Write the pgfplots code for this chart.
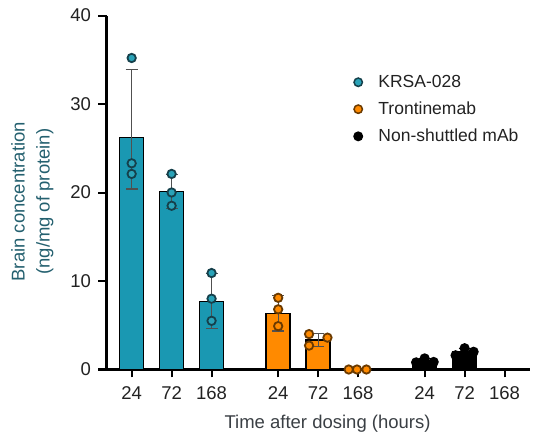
\documentclass[border=0pt]{standalone}
\usepackage{fontspec}
\setmainfont{Liberation Sans}
\usepackage{pgfplots}
\pgfplotsset{compat=1.18}
\definecolor{tealbar}{HTML}{1A98B2}
\definecolor{tealmk}{HTML}{2AA3B8}
\definecolor{tealedge}{HTML}{15404B}
\definecolor{orangebar}{HTML}{FF8A00}
\definecolor{orangeedge}{HTML}{6B3A00}
\definecolor{errc}{HTML}{505050}
\definecolor{tickc}{HTML}{222222}
\definecolor{ylabc}{HTML}{24606F}
\definecolor{xlabc}{HTML}{3A3F44}
\begin{document}
\begin{tikzpicture}
\useasboundingbox (0,0) rectangle (535bp,444bp);
\begin{axis}[
  at={(106.5bp,74.5bp)}, anchor=south west,
  scale only axis, width=423.5bp, height=354bp,
  xmin=-0.63, xmax=9.97, ymin=0, ymax=40,
  axis x line*=bottom, axis y line*=left,
  axis line style={line width=2.2bp, -},
  ytick={0,10,20,30,40},
  xtick={0,1,2,3.667,4.667,5.667,7.333,8.333,9.333},
  xticklabels={24,72,168,24,72,168,24,72,168},
  tick align=outside, major tick length=8bp,
  tick style={line width=2bp, black},
  ticklabel style={font=\fontsize{18.5bp}{20bp}\selectfont, text=tickc},
  xticklabel style={yshift=-6bp},
  yticklabel style={xshift=-4bp},
  /pgf/number format/assume math mode=true,
  clip=false,
  xlabel={Time after dosing (hours)},
  xlabel style={font=\fontsize{18.5bp}{22bp}\selectfont, text=xlabc, at={(axis description cs:0.522,-0.168)}, anchor=base},
  ylabel={Brain concentration\\(ng/mg of protein)},
  ylabel style={font=\fontsize{18.5bp}{25bp}\selectfont, text=ylabc, align=center, at={(axis description cs:-0.175,0.474)}, anchor=center},
  legend style={at={(axis description cs:0.584,0.837)}, anchor=north west, draw=none, fill=none, inner sep=0pt, row sep=9bp, column sep=14bp,
    font=\fontsize{17.5bp}{20bp}\selectfont, text=tickc},
  legend cell align=left,
]
% bars
\addplot[ybar, bar width=0.6, bar shift=0pt, fill=tealbar, draw=black, line width=1.6bp, forget plot,
  error bars/.cd, y dir=both, y explicit,
  error bar style={line width=1.1bp, color=errc},
  error mark options={rotate=90, mark size=6bp, line width=1.1bp, color=errc}]
  coordinates {(0,26.2) += (0,7.7) -= (0,5.8) (1,20.1) +- (0,1.9) (2,7.7) +- (0,3.1)};
\addplot[ybar, bar width=0.6, bar shift=0pt, fill=orangebar, draw=black, line width=1.6bp, forget plot,
  error bars/.cd, y dir=both, y explicit,
  error bar style={line width=1.1bp, color=errc},
  error mark options={rotate=90, mark size=6bp, line width=1.1bp, color=errc}]
  coordinates {(3.667,6.35) +- (0,2.0) (4.667,3.33) +- (0,0.7)};
\addplot[ybar, bar width=0.6, bar shift=0pt, fill=black, draw=black, line width=1.6bp, forget plot,
  error bars/.cd, y dir=both, y explicit,
  error bar style={line width=1.1bp, color=black},
  error mark options={rotate=90, mark size=6bp, line width=1.1bp, color=black}]
  coordinates {(7.333,0.97) +- (0,0.25) (8.333,2.0) +- (0,0.4)};
% points
\addplot[only marks, mark=*, mark size=4.2bp, mark options={fill=tealmk, draw=tealedge, line width=1.8bp}, forget plot]
  coordinates {(0,35.2)(0,23.3)(0,22.1)(1,22.1)(1,20.0)(1,18.5)(2,10.9)(2,8.0)(2,5.5)};
\addplot[only marks, mark=*, mark size=4.2bp, mark options={fill=orangebar, draw=orangeedge, line width=1.8bp}, forget plot]
  coordinates {(3.667,8.1)(3.667,6.8)(3.667,4.9)(4.44,4.0)(4.44,2.7)(4.9,3.6)(5.433,0)(5.64,0)(5.875,0)};
\addplot[only marks, mark=*, mark size=4.2bp, mark options={fill=black, draw=black, line width=1.8bp}, forget plot]
  coordinates {(7.12,0.8)(7.333,1.25)(7.558,0.85)(8.108,1.6)(8.333,2.4)(8.558,2.0)};
% legend
\addlegendimage{only marks, mark=*, mark size=4.2bp, mark options={fill=tealmk, draw=tealedge, line width=1.5bp}}
\addlegendentry{KRSA-028}
\addlegendimage{only marks, mark=*, mark size=4.2bp, mark options={fill=orangebar, draw=orangeedge, line width=1.5bp}}
\addlegendentry{Trontinemab}
\addlegendimage{only marks, mark=*, mark size=4.2bp, mark options={fill=black, draw=black, line width=1.5bp}}
\addlegendentry{Non-shuttled mAb}
\end{axis}
\end{tikzpicture}
\end{document}
